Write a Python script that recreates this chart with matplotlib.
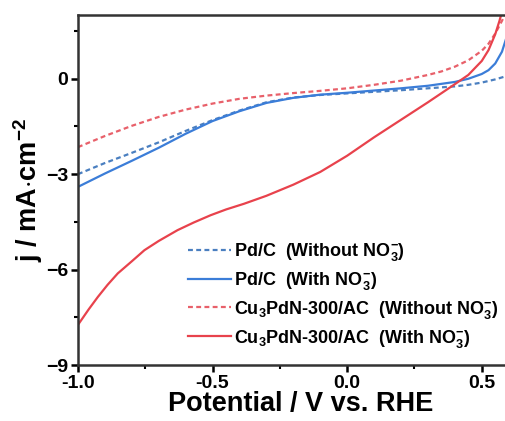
import matplotlib
matplotlib.use("Agg")
import matplotlib.pyplot as plt
from matplotlib.ticker import MultipleLocator, FormatStrFormatter

plt.rcParams["font.family"] = ["Liberation Sans", "DejaVu Sans"]
plt.rcParams["font.weight"] = "bold"
plt.rcParams["axes.labelweight"] = "bold"
plt.rcParams["mathtext.fontset"] = "custom"
plt.rcParams["mathtext.rm"] = "Liberation Sans:bold"
plt.rcParams["mathtext.default"] = "rm"

# potential (V vs RHE) and current density (mA cm-2)
v_pd_without = [-1.0, -0.9, -0.8, -0.7, -0.6, -0.5, -0.4, -0.3, -0.2, -0.1,
                0.0, 0.1, 0.2, 0.3, 0.4, 0.45, 0.5, 0.55, 0.59]
j_pd_without = [-3.0, -2.65, -2.33, -2.0, -1.64, -1.3, -1.0, -0.74, -0.59, -0.51,
                -0.46, -0.41, -0.36, -0.3, -0.24, -0.19, -0.12, -0.02, 0.08]

v_pd_with = [-1.0, -0.9, -0.8, -0.7, -0.6, -0.5, -0.4, -0.3, -0.2, -0.1,
             0.0, 0.1, 0.2, 0.3, 0.35, 0.4, 0.45, 0.5, 0.525, 0.55, 0.575, 0.59]
j_pd_with = [-3.4, -2.98, -2.58, -2.17, -1.73, -1.33, -1.02, -0.76, -0.6, -0.5,
             -0.44, -0.37, -0.3, -0.22, -0.16, -0.1, 0.0, 0.15, 0.27, 0.48, 0.85, 1.25]

v_cu_without = [-1.0, -0.9, -0.8, -0.7, -0.6, -0.5, -0.4, -0.3, -0.2, -0.1,
                0.0, 0.1, 0.2, 0.3, 0.35, 0.4, 0.45, 0.5, 0.525, 0.55, 0.575, 0.59]
j_cu_without = [-2.15, -1.8, -1.48, -1.2, -0.97, -0.78, -0.63, -0.53, -0.45, -0.38,
                -0.3, -0.19, -0.06, 0.12, 0.23, 0.38, 0.58, 0.88, 1.1, 1.42, 1.82, 2.1]

v_cu_with = [-1.0, -0.96, -0.926, -0.89, -0.852, -0.8, -0.753, -0.7, -0.63, -0.57,
             -0.507, -0.45, -0.383, -0.3, -0.2, -0.1, 0.0, 0.1, 0.2, 0.3, 0.4,
             0.45, 0.5, 0.525, 0.55, 0.565, 0.575]
j_cu_with = [-7.74, -7.25, -6.86, -6.48, -6.12, -5.74, -5.39, -5.1, -4.76, -4.52,
             -4.29, -4.11, -3.93, -3.68, -3.33, -2.93, -2.42, -1.84, -1.29, -0.74, -0.17,
             0.12, 0.56, 0.9, 1.4, 1.8, 2.1]

labels = [r"Pd/C  (Without NO$_3^{-}$)",
          r"Pd/C  (With NO$_3^{-}$)",
          r"Cu$_3$PdN-300/AC  (Without NO$_3^{-}$)",
          r"Cu$_3$PdN-300/AC  (With NO$_3^{-}$)"]

blue = "#3b7dd8"
red = "#e8424c"

fig = plt.figure(figsize=(5.06, 4.21), dpi=100)
ax = fig.add_axes([0.154, 0.133, 0.846, 0.831])

ax.plot(v_pd_without, j_pd_without, ls=(0, (2.2, 1.5)), color="#4a7fc0", lw=1.6, label=labels[0])
ax.plot(v_pd_with, j_pd_with, ls="-", color=blue, lw=1.6, label=labels[1])
ax.plot(v_cu_without, j_cu_without, ls=(0, (2.2, 1.5)), color="#e8606a", lw=1.6, label=labels[2])
ax.plot(v_cu_with, j_cu_with, ls="-", color=red, lw=1.6, label=labels[3])

ax.set_xlim(-1.0, 0.59)
ax.set_ylim(-9, 2)
ax.xaxis.set_major_locator(MultipleLocator(0.5))
ax.xaxis.set_minor_locator(MultipleLocator(0.25))
ax.yaxis.set_major_locator(MultipleLocator(3))
ax.yaxis.set_minor_locator(MultipleLocator(1.5))
ax.xaxis.set_major_formatter(FormatStrFormatter("%.1f"))
ax.tick_params(which="major", direction="out", length=5, width=1.8, labelsize=14, pad=2)
ax.tick_params(which="minor", direction="out", length=3, width=1.5)
for s in ax.spines.values():
    s.set_linewidth(1.8)
    s.set_color("#333333")
ax.spines["right"].set_visible(False)

ax.set_xlabel("Potential / V vs. RHE", fontsize=19.5)
ax.xaxis.set_label_coords(0.52, -0.075)
ax.set_ylabel(r"j / mA$\cdot$cm$^{-2}$", fontsize=19.5, labelpad=1)

ax.legend(loc="lower left", bbox_to_anchor=(0.222, 0.0), frameon=False, fontsize=13,
          handlelength=2.35, labelspacing=0.38, handletextpad=0.2, borderaxespad=0.45)

fig.savefig("out.png", dpi=100)
